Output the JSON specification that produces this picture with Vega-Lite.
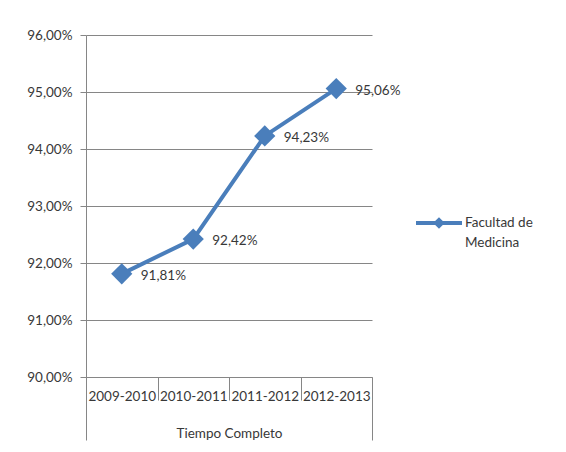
{
  "$schema": "https://vega.github.io/schema/vega-lite/v6.json",
  "width": 286,
  "height": 342,
  "autosize": {"type": "none"},
  "padding": {"left": 86, "top": 35, "right": 194, "bottom": 75},
  "background": "white",
  "config": {
    "locale": {"number": {"decimal": ",", "thousands": ".", "grouping": [3], "currency": ["", " €"]}},
    "view": {"stroke": null},
    "font": "Lato",
    "axis": {"labelFont": "Lato", "titleFont": "Lato", "labelColor": "#383838", "titleColor": "#383838"}
  },
  "data": {
    "values": [
      {"periodo": "2009-2010", "serie": "Facultad de Medicina", "valor": 0.9181},
      {"periodo": "2010-2011", "serie": "Facultad de Medicina", "valor": 0.9242},
      {"periodo": "2011-2012", "serie": "Facultad de Medicina", "valor": 0.9423},
      {"periodo": "2012-2013", "serie": "Facultad de Medicina", "valor": 0.9506}
    ]
  },
  "encoding": {
    "x": {
      "field": "periodo",
      "type": "nominal",
      "sort": null,
      "scale": {"type": "band", "paddingInner": 0, "paddingOuter": 0},
      "axis": {
        "title": "Tiempo Completo",
        "titleFontSize": 13.5,
        "titleFontWeight": "normal",
        "titleY": 56,
        "titleBaseline": "middle",
        "labelAngle": 0,
        "labelFontSize": 13.5,
        "labelPadding": {"condition": {"test": "datum.index == 1 || datum.index < 0", "value": -51}, "value": -11},
        "labelBaseline": "top",
        "tickBand": "extent",
        "tickColor": "#868686",
        "tickSize": {"condition": {"test": "datum.index == 1 || datum.index < 0", "value": 63}, "value": 23},
        "domainColor": "#868686",
        "grid": false
      }
    },
    "y": {
      "field": "valor",
      "type": "quantitative",
      "scale": {"domain": [0.90, 0.96], "zero": false, "nice": false},
      "axis": {
        "title": null,
        "values": [0.90, 0.91, 0.92, 0.93, 0.94, 0.95, 0.96],
        "format": ".2%",
        "labelFontSize": 13.5,
        "labelPadding": 8,
        "tickSize": 6,
        "tickColor": "#868686",
        "domainColor": "#868686",
        "grid": true,
        "gridColor": "#868686",
        "gridOpacity": 1
      }
    }
  },
  "layer": [
    {
      "mark": {"type": "line", "strokeWidth": 4, "color": "#4A7EBB"},
      "encoding": {
        "color": {
          "field": "serie",
          "type": "nominal",
          "scale": {"range": ["#4A7EBB"]},
          "legend": {
            "title": null,
            "orient": "none",
            "legendX": 328,
            "legendY": 163,
            "symbolType": "M-1,0H1M-0.13,0L0,-0.13L0.13,0L0,0.13Z",
            "symbolSize": 2116,
            "symbolStrokeWidth": 4,
            "symbolStrokeColor": "#4A7EBB",
            "symbolFillColor": "#4A7EBB",
            "labelFont": "Lato",
            "labelFontSize": 13.5,
            "labelColor": "#383838",
            "labelOffset": 1,
            "labelExpr": "['Facultad de', 'Medicina']",
            "encode": {"labels": {"update": {"lineHeight": {"value": 20}}}}
          }
        }
      }
    },
    {
      "mark": {"type": "point", "shape": "diamond", "size": 450, "filled": true, "opacity": 1, "color": "#4A7EBB"}
    },
    {
      "mark": {"type": "text", "align": "left", "baseline": "middle", "dx": 19, "dy": 2, "fontSize": 13.5, "font": "Lato", "color": "#383838"},
      "encoding": {"text": {"field": "valor", "type": "quantitative", "format": ".2%"}}
    }
  ]
}
